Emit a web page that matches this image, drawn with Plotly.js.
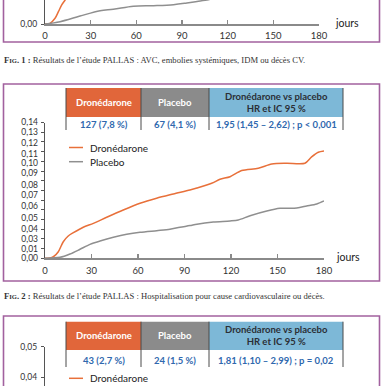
<!DOCTYPE html>
<html><head><meta charset="utf-8">
<script src="https://cdn.plot.ly/plotly-3.0.1.min.js"></script>
<style>html,body{margin:0;padding:0;background:#fff;overflow:hidden}#chart{width:384px;height:386px}</style>
</head><body><div id="chart"></div>
<script>
// ---------- DATA ----------
// Fig. 1 (fragment visible at top)
const fig1DronDays = [0, 3.3, 6.6, 8.8, 11, 13.2, 15];
const fig1DronVals = [0, 0.0007, 0.0059, 0.0127, 0.0196, 0.0247, 0.030];
const fig1PlacDays = [0, 9.9, 23, 36.2, 44.9, 58.1, 71.3, 84.4, 93.2, 102, 106.4, 112];
const fig1PlacVals = [0, 0.0024, 0.0082, 0.0137, 0.0152, 0.0183, 0.0189, 0.0199, 0.0216, 0.0237, 0.0247, 0.027];
const fig1Caption = "Résultats de l’étude PALLAS : AVC, embolies systémiques, IDM ou décès CV.";

// Fig. 2 (main chart)
const fig2DronDays = [0, 3, 5.4, 8.6, 11.8, 15, 18.3, 24.7, 31.2, 39.8, 50.5, 61.3, 72, 82.8, 93.5, 98, 107.5, 112.9, 119.4, 126.9, 137.6, 146.3, 155.9, 167.7, 172, 176.3, 180];
const fig2DronVals = [0, 0.0003, 0.0016, 0.0068, 0.0171, 0.023, 0.0264, 0.032, 0.036, 0.0423, 0.0498, 0.0567, 0.0619, 0.0663, 0.0705, 0.0725, 0.0773, 0.0815, 0.0841, 0.0905, 0.0928, 0.0972, 0.098, 0.098, 0.1045, 0.1093, 0.1106];
const fig2PlacDays = [0, 9.7, 16.1, 22.6, 29, 35.5, 44.1, 52.7, 61.3, 72.1, 80.6, 87.1, 93.5, 98, 108.6, 119.4, 124.7, 132.3, 143.1, 151.6, 162.4, 168.8, 175.3, 180];
const fig2PlacVals = [0, 0.001, 0.0044, 0.0093, 0.0144, 0.0178, 0.0216, 0.0247, 0.0268, 0.0285, 0.0299, 0.032, 0.0337, 0.0352, 0.0374, 0.0385, 0.0395, 0.0439, 0.0488, 0.0515, 0.0519, 0.0539, 0.056, 0.0591];
const fig2YTickVals = [0, 0.01, 0.02, 0.03, 0.04, 0.05, 0.06, 0.07, 0.08, 0.09, 0.10, 0.11, 0.12, 0.13, 0.14];
const fig2YLabels = ["0,00","0,01","0,03","0,04","0,05","0,06","0,07","0,08","0,09","0,10","0,11","0,12","0,13","0,14"];
const fig2YLabelVals = [0, 0.01, 0.02, 0.03, 0.0415, 0.054, 0.065, 0.0755, 0.0875, 0.098, 0.108, 0.119, 0.13, 0.14];
const fig2Caption = "Résultats de l’étude PALLAS : Hospitalisation pour cause cardiovasculaire ou décès.";
const fig2Header = ["Dronédarone", "Placebo", "Dronédarone vs placebo<br>HR et IC 95 %"];
const fig2Row = ["127 (7,8 %)", "67 (4,1 %)", "1,95 (1,45 – 2,62) ; p < 0,001"];

// Fig. 3 (fragment visible at bottom)
const fig3Header = ["Dronédarone", "Placebo", "Dronédarone vs placebo<br>HR et IC 95 %"];
const fig3Row = ["43 (2,7 %)", "24 (1,5 %)", "1,81 (1,10 – 2,99) ; p = 0,02"];
const fig3YTickVals = [0.04, 0.05];
const fig3YLabels = ["0,04", "0,05"];

const xTickVals = [0, 30, 60, 90, 120, 150, 180];
const seriesNames = ["Dronédarone", "Placebo"];

// ---------- STYLE / LAYOUT ----------
const W = 384, H = 386;
const X = p => p / W;
const Y = p => 1 - p / H;
const ORANGE = '#E8703A', GRAY = '#8f8f8f', PURPLE = '#A2619F';
const HDR = ['#E1663A', '#8B8B8B', '#7DB8D7'];
const SANS = 'Lato, "Open Sans", sans-serif';
const SERIF = '"Liberation Serif", "DejaVu Serif", serif';
const colEdges = [66, 141, 209, 343];

const traces = [
  {x: fig1DronDays, y: fig1DronVals, xaxis: 'x2', yaxis: 'y2', mode: 'lines', line: {color: ORANGE, width: 1.5, shape: 'spline'}, name: seriesNames[0]},
  {x: fig1PlacDays, y: fig1PlacVals, xaxis: 'x2', yaxis: 'y2', mode: 'lines', line: {color: GRAY, width: 1.5, shape: 'spline'}, name: seriesNames[1]},
  {x: fig2DronDays, y: fig2DronVals, xaxis: 'x', yaxis: 'y', mode: 'lines', line: {color: ORANGE, width: 1.5, shape: 'spline', smoothing: 0.8}, name: seriesNames[0]},
  {x: fig2PlacDays, y: fig2PlacVals, xaxis: 'x', yaxis: 'y', mode: 'lines', line: {color: GRAY, width: 1.5, shape: 'spline', smoothing: 0.8}, name: seriesNames[1]},
  {x: [], y: [], xaxis: 'x3', yaxis: 'y3', mode: 'lines', showlegend: false},
  {x: [], y: [], xaxis: 'x', yaxis: 'y4', mode: 'lines', showlegend: false}
];

const tickFont = {family: SANS, size: 8.5, color: '#333'};
const xAxisCommon = {
  range: [0, 180], tickvals: xTickVals, ticktext: xTickVals.map(String),
  ticks: 'inside', ticklen: 4, tickwidth: 1.2, tickcolor: '#8a8a8a',
  showline: true, linecolor: '#8a8a8a', linewidth: 2,
  showgrid: false, zeroline: false, fixedrange: true,
  tickfont: {family: SANS, size: 9.5, color: '#333'}, ticklabelstandoff: 2
};
const yAxisCommon = {
  ticks: 'outside', ticklen: 3, tickwidth: 1, tickcolor: '#555',
  showline: true, linecolor: '#555', linewidth: 1.2,
  showgrid: false, zeroline: false, fixedrange: true, tickfont: tickFont
};

const shapes = [];
const annotations = [];

// Boxes
shapes.push({type: 'rect', xref: 'paper', yref: 'paper', x0: X(3.5), x1: X(379.5), y0: Y(42), y1: Y(-10), line: {color: PURPLE, width: 1.6}, layer: 'below'});
shapes.push({type: 'rect', xref: 'paper', yref: 'paper', x0: X(3.5), x1: X(379.5), y0: Y(281), y1: Y(84), line: {color: PURPLE, width: 1.6}, layer: 'below'});
shapes.push({type: 'rect', xref: 'paper', yref: 'paper', x0: X(3.5), x1: X(379.5), y0: Y(420), y1: Y(316), line: {color: PURPLE, width: 1.6}, layer: 'below'});

// Tables
function table(top, hdrBottom, rowBottom, rowY, header, row) {
  for (let i = 0; i < 3; i++) {
    shapes.push({type: 'rect', xref: 'paper', yref: 'paper', x0: X(colEdges[i]), x1: X(colEdges[i + 1]), y0: Y(hdrBottom), y1: Y(top), fillcolor: HDR[i], line: {width: 0}});
    const cx = X((colEdges[i] + colEdges[i + 1]) / 2);
    annotations.push({xref: 'paper', yref: 'paper', x: cx, y: Y((top + hdrBottom) / 2), xanchor: 'center', yanchor: 'middle', showarrow: false,
      text: '<b>' + header[i] + '</b>', font: {family: SANS, size: 9.5, color: i < 2 ? '#ffffff' : '#2b2f36'}});
    annotations.push({xref: 'paper', yref: 'paper', x: cx, y: Y(rowY), xanchor: 'center', yanchor: 'middle', showarrow: false,
      text: '<b>' + row[i] + '</b>', font: {family: SANS, size: 9.5, color: '#2F68AE'}});
  }
  colEdges.forEach(e => shapes.push({type: 'line', xref: 'paper', yref: 'paper', x0: X(e), x1: X(e), y0: Y(rowBottom), y1: Y(top), line: {color: '#4a4a4a', width: 1}}));
}
table(88, 117, 130, 124.5, fig2Header, fig2Row);
table(321.7, 350, 367, 360, fig3Header, fig3Row);

// Legends (drawn manually)
function legendItem(py, color, label) {
  shapes.push({type: 'line', xref: 'paper', yref: 'paper', x0: X(69), x1: X(83), y0: Y(py), y1: Y(py), line: {color: color, width: 1.5}});
  annotations.push({xref: 'paper', yref: 'paper', x: X(88), y: Y(py), xanchor: 'left', yanchor: 'middle', showarrow: false, text: label, font: {family: SANS, size: 10, color: '#222'}});
}
legendItem(147.5, ORANGE, seriesNames[0]);
legendItem(161.7, GRAY, seriesNames[1]);
legendItem(378.3, ORANGE, seriesNames[0]);

// "jours"
annotations.push({xref: 'paper', yref: 'paper', x: X(333), y: Y(23), xanchor: 'left', yanchor: 'middle', showarrow: false, text: 'jours', font: {family: SANS, size: 10.5, color: '#222'}});
annotations.push({xref: 'paper', yref: 'paper', x: X(334), y: Y(257), xanchor: 'left', yanchor: 'middle', showarrow: false, text: 'jours', font: {family: SANS, size: 10.5, color: '#222'}});

// Captions
function caption(py, n, text) {
  annotations.push({xref: 'paper', yref: 'paper', x: X(2), y: Y(py), xanchor: 'left', yanchor: 'middle', showarrow: false,
    text: '<b>F<span style="font-size:6.6px">IG</span>. ' + n + ' :</b> ' + text, font: {family: SERIF, size: 8.6, color: '#333'}});
}
caption(60, 1, fig1Caption);
caption(296, 2, fig2Caption);

const layout = {
  width: W, height: H, margin: {l: 0, r: 0, t: 0, b: 0},
  paper_bgcolor: '#fff', plot_bgcolor: 'rgba(0,0,0,0)', showlegend: false,
  font: {family: SANS, color: '#333'},
  xaxis: Object.assign({}, xAxisCommon, {domain: [X(45), X(324)], anchor: 'y'}),
  yaxis: Object.assign({}, yAxisCommon, {domain: [Y(258.3), Y(122.5)], range: [0, 0.14], anchor: 'x', tickvals: fig2YTickVals, showticklabels: false}),
  yaxis4: Object.assign({}, yAxisCommon, {overlaying: 'y', anchor: 'x', range: [0, 0.14], tickvals: fig2YLabelVals, ticktext: fig2YLabels, ticks: '', showline: false, ticklabelstandoff: 6}),
  xaxis2: Object.assign({}, xAxisCommon, {domain: [X(45), X(319)], anchor: 'y2'}),
  yaxis2: Object.assign({}, yAxisCommon, {domain: [Y(24), 1], range: [0, 0.0247], anchor: 'x2', tickvals: [0], ticktext: ['0,00'], ticklabelstandoff: 2}),
  xaxis3: {domain: [X(45), X(324)], anchor: 'y3', visible: false, range: [0, 180], fixedrange: true},
  yaxis3: Object.assign({}, yAxisCommon, {domain: [0, Y(346.7)], range: [0.03716, 0.05], anchor: 'x3', tickvals: fig3YTickVals, ticktext: fig3YLabels, ticklabelstandoff: 2}),
  shapes: shapes, annotations: annotations
};

Plotly.newPlot('chart', traces, layout, {displayModeBar: false, staticPlot: true});
</script></body></html>
